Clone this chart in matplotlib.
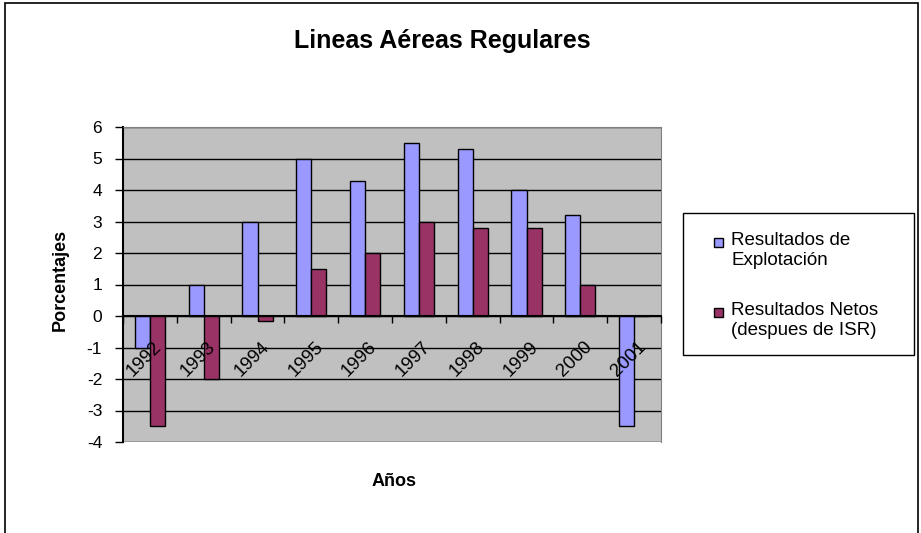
import numpy as np
import matplotlib.pyplot as plt
from matplotlib.patches import Rectangle

plt.rcParams['font.family'] = ['Liberation Sans', 'DejaVu Sans']
plt.rcParams['axes.unicode_minus'] = False

years = ["1992", "1993", "1994", "1995", "1996", "1997", "1998", "1999", "2000", "2001"]
explotacion = [-1.0, 1.0, 3.0, 5.0, 4.3, 5.5, 5.3, 4.0, 3.2, -3.5]
netos = [-3.5, -2.0, -0.15, 1.5, 2.0, 3.0, 2.8, 2.8, 1.0, 0.0]
series_labels = ["Resultados de\nExplotación", "Resultados Netos\n(despues de ISR)"]
y_ticks = list(range(-4, 7))

blue = "#9999FF"
wine = "#993366"

fig = plt.figure(figsize=(9.21, 5.33), dpi=100)
ax = fig.add_axes([123 / 921, 91 / 533, 538 / 921, 315 / 533])
ax.set_facecolor("#C0C0C0")
ax.set_axisbelow(False)

# gridlines drawn by hand so the year labels can sit on top of the bars
for v in y_ticks:
    ax.axhline(v, color="black", linewidth=1, zorder=1)

x = np.arange(len(years))
w = 0.28
ax.bar(x - w / 2, explotacion, w, color=blue, edgecolor="black", linewidth=1, zorder=2)
ax.bar(x + w / 2, netos, w, color=wine, edgecolor="black", linewidth=1, zorder=2)

ax.set_xlim(-0.5, len(years) - 0.5)
ax.set_ylim(-4, 6)
ax.set_yticks(y_ticks)
ax.tick_params(axis="y", labelsize=12.5, length=6, width=1, direction="out", pad=9)

# category axis sits on zero, ticks at the category boundaries
ax.spines["bottom"].set_position(("data", 0))
ax.spines["bottom"].set_linewidth(1.5)
ax.spines["bottom"].set_zorder(4)
ax.set_xticks(np.arange(-0.5, len(years)), labels=[])
ax.set_xticks(x + 0.06, labels=years, minor=True)
ax.tick_params(axis="x", which="major", length=5, width=1, direction="out")
ax.tick_params(axis="x", which="minor", length=0, labelsize=13.5, pad=16)
for lbl in ax.get_xticklabels(minor=True):
    lbl.set_rotation(45)
    lbl.set_ha("right")
    lbl.set_va("top")
    lbl.set_rotation_mode("anchor")

for s in ["top", "right"]:
    ax.spines[s].set_color("#808080")
ax.spines["left"].set_linewidth(1.5)

fig.text(60 / 921, 1 - 280 / 533, "Porcentajes", fontsize=13, fontweight="bold",
         rotation=90, ha="center", va="center")
fig.text(394 / 921, 1 - 482 / 533, "Años", fontsize=13, fontweight="bold",
         ha="center", va="center")
fig.text(442 / 921, 1 - 41 / 533, "Lineas Aéreas Regulares", fontsize=18,
         fontweight="bold", ha="center", va="center")

# legend box, Excel style: swatch level with the first line of each label
fig.patches.append(Rectangle((683 / 921, 1 - 355 / 533), 231 / 921, 142 / 533,
                             transform=fig.transFigure, facecolor="white",
                             edgecolor="black", linewidth=1))
for label, color, y_top in zip(series_labels, [blue, wine], [232, 302]):
    fig.patches.append(Rectangle((714 / 921, 1 - (y_top + 15) / 533), 9 / 921, 9 / 533,
                                 transform=fig.transFigure, facecolor=color,
                                 edgecolor="black", linewidth=1))
    fig.text(731 / 921, 1 - y_top / 533, label, fontsize=13.5, ha="left", va="top",
             linespacing=1.25)

fig.patches.append(Rectangle((5 / 921, -0.1), 913 / 921, 1.1 - 3 / 533,
                             transform=fig.transFigure, fill=False,
                             edgecolor="black", linewidth=1.2))

fig.savefig("out.png", dpi=100)
